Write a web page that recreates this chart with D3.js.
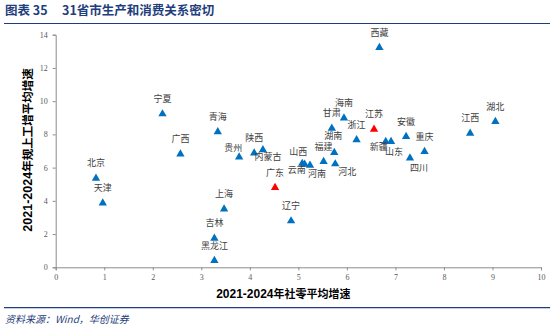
<!DOCTYPE html>
<html><head><meta charset="utf-8">
<script src="https://cdn.jsdelivr.net/npm/d3@7"></script>
<style>
html,body{margin:0;padding:0;background:#fff;}
svg{display:block;}
</style></head>
<body>
<svg id="c" width="550" height="332"></svg>
<script>
const provinces = ["北京","天津","宁夏","广西","青海","上海","吉林","黑龙江","贵州","陕西","内蒙古","广东","辽宁","山西","云南","河南","福建","河北","湖南","甘肃","海南","浙江","江苏","新疆","山东","安徽","重庆","四川","江西","湖北","西藏"];
const retailGrowth = [0.83,0.97,2.20,2.57,3.34,3.47,3.27,3.27,3.78,4.09,4.27,4.52,4.85,5.08,5.13,5.24,5.52,5.76,5.74,5.69,5.94,6.20,6.56,6.80,6.91,7.22,7.60,7.30,8.54,9.06,6.67];
const industryGrowth = [5.36,3.86,9.23,6.82,8.15,3.51,1.75,0.40,6.63,6.87,7.07,4.80,2.79,6.25,6.20,6.14,6.36,6.22,6.90,8.37,8.98,7.67,8.31,7.57,7.57,7.87,6.96,6.57,8.07,8.77,13.23];
const highlighted = ["广东","江苏"];
const xTicks = [0,1,2,3,4,5,6,7,8,9,10];
const yTicks = [0,2,4,6,8,10,12,14];
const titleNo = "图表 35";
const titleText = "31省市生产和消费关系密切";
const xTitleNum = "2021-2024", xTitleCn = "年社零平均增速";
const yTitleNum = "2021-2024", yTitleCn = "年规上工增平均增速";
const sourceText = "资料来源：Wind，华创证券";

// label offsets (layout, px)
const labelOffset = {
  "贵州":[-6,-9],"内蒙古":[5,7],"山西":[-4,-12],"云南":[-8,6],"河南":[7,9],
  "河北":[12,8],"湖南":[-1,-17],"新疆":[-7,5],"山东":[3,10],"四川":[9,10]
};

const svg = d3.select("#c");
const navy = "#1F3E7C";
const margin = {l:55.7, r:541, t:34.7, b:267.3};
const x = d3.scaleLinear().domain([0,10]).range([margin.l, margin.r]);
const y = d3.scaleLinear().domain([0,14]).range([margin.b, margin.t]);

// title
svg.append("text").attr("x",5).attr("y",15).attr("fill",navy)
  .attr("font-family","'Noto Sans CJK SC'").attr("font-weight","bold").attr("font-size",12.5)
  .text(titleNo);
svg.append("text").attr("x",62).attr("y",15).attr("fill",navy)
  .attr("font-family","'Noto Sans CJK SC'").attr("font-weight","bold").attr("font-size",12.5)
  .text(titleText);
svg.append("line").attr("x1",4).attr("x2",550).attr("y1",23.5).attr("y2",23.5)
  .attr("stroke",navy).attr("stroke-width",1.2);

// axes
const axColor = "#8C8C8C";
const xAxis = svg.append("g").attr("transform",`translate(0,${margin.b})`)
  .call(d3.axisBottom(x).tickValues(xTicks).tickSize(3).tickFormat(d3.format("d")));
const yAxis = svg.append("g").attr("transform",`translate(${margin.l},0)`)
  .call(d3.axisLeft(y).tickValues(yTicks).tickSize(3).tickFormat(d3.format("d")));
[xAxis,yAxis].forEach(g=>{
  g.select(".domain").attr("stroke",axColor);
  g.selectAll(".tick line").attr("stroke",axColor);
  g.selectAll(".tick text").attr("fill","#595959")
   .attr("font-family","'Liberation Serif'").attr("font-size",8);
});
xAxis.selectAll(".tick text").attr("dy","0.8em");
yAxis.selectAll(".tick text").attr("dx","-2");

// axis titles
const xt = svg.append("text").attr("x",(margin.l+margin.r)/2 - 15).attr("y",297.5)
  .attr("text-anchor","middle").attr("font-weight","bold").attr("fill","#000");
xt.append("tspan").attr("font-family","'Liberation Sans'").attr("font-size",12).text(xTitleNum);
xt.append("tspan").attr("font-family","'Noto Sans CJK SC'").attr("font-size",11).text(xTitleCn);

const yt = svg.append("text").attr("transform","translate(32,150) rotate(-90)")
  .attr("text-anchor","middle").attr("font-weight","bold").attr("fill","#000");
yt.append("tspan").attr("font-family","'Liberation Sans'").attr("font-size",12.5).text(yTitleNum);
yt.append("tspan").attr("font-family","'Noto Sans CJK SC'").attr("font-size",11.5).text(yTitleCn);

// points
const data = provinces.map((p,i)=>({name:p, xv:retailGrowth[i], yv:industryGrowth[i]}));
const tri = d3.symbol().type(d3.symbolTriangle).size(30);
svg.append("g").selectAll("path").data(data).join("path")
  .attr("d",tri)
  .attr("transform",d=>`translate(${x(d.xv)},${y(d.yv)})`)
  .attr("fill",d=>highlighted.includes(d.name)?"#FF0000":"#0070C0");

svg.append("g").selectAll("text").data(data).join("text")
  .attr("x",d=>x(d.xv)+(labelOffset[d.name]?labelOffset[d.name][0]:0))
  .attr("y",d=>y(d.yv)+(labelOffset[d.name]?labelOffset[d.name][1]:-15))
  .attr("dy","0.35em")
  .attr("text-anchor","middle")
  .attr("font-family","'Noto Sans CJK SC'").attr("font-size",9).attr("fill","#404040")
  .text(d=>d.name);

// bottom
svg.append("line").attr("x1",4).attr("x2",550).attr("y1",307.7).attr("y2",307.7)
  .attr("stroke",navy).attr("stroke-width",1.2);
svg.append("text").attr("x",5).attr("y",323).attr("fill",navy)
  .attr("font-family","'Noto Sans CJK SC'").attr("font-style","italic").attr("font-size",10)
  .text(sourceText);
</script>
</body></html>
